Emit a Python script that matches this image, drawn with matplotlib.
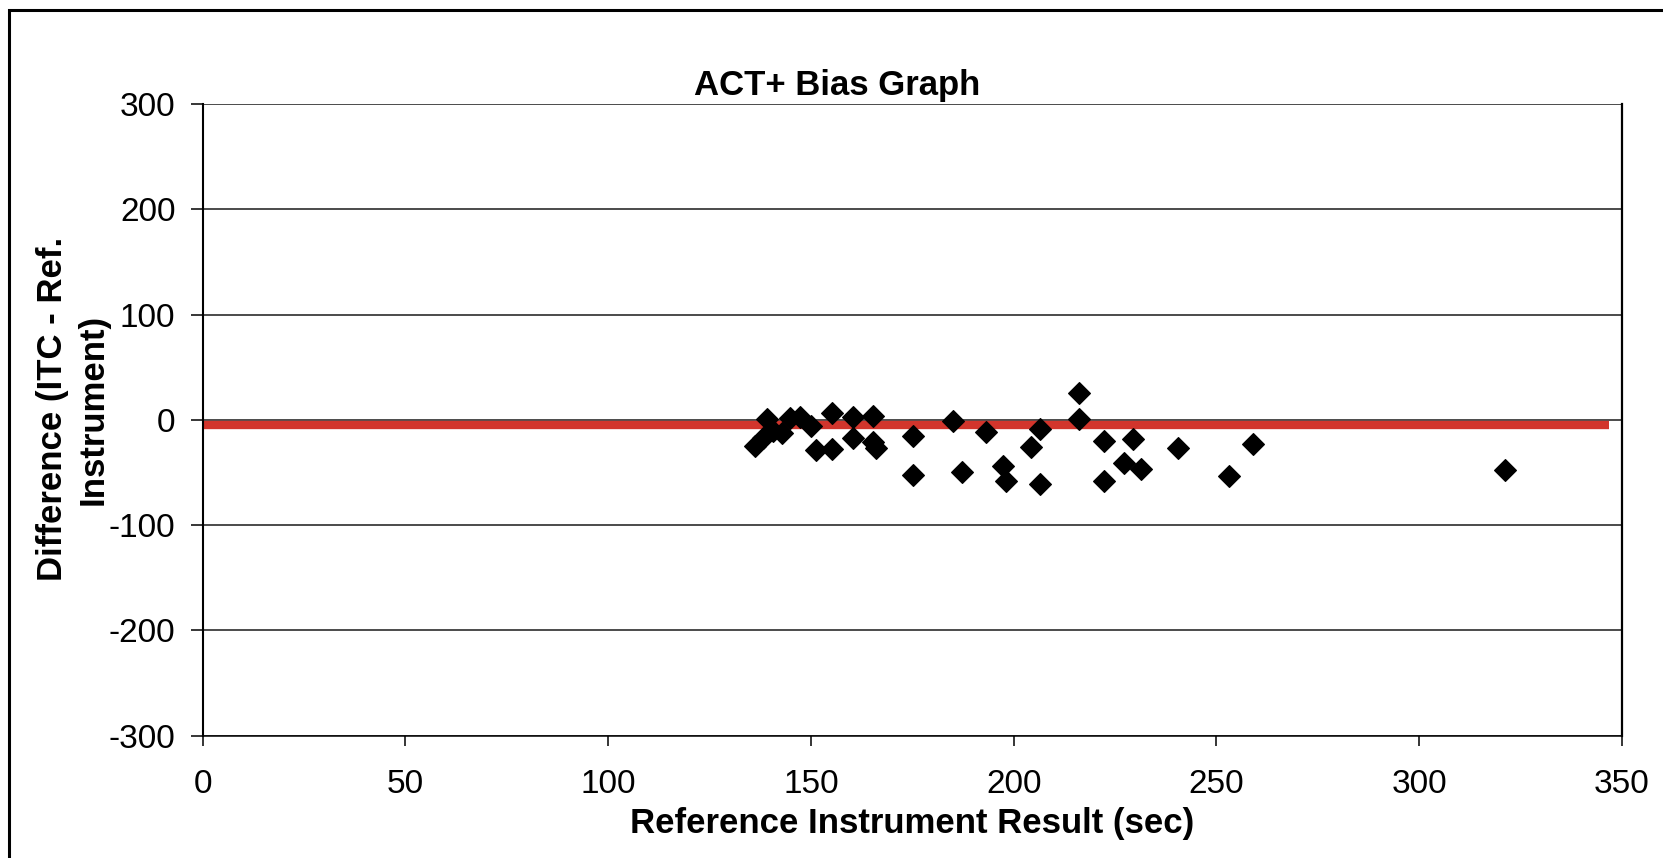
import matplotlib
matplotlib.use("Agg")
import matplotlib.pyplot as plt
from matplotlib.patches import Rectangle

plt.rcParams['font.family'] = ['Liberation Sans', 'DejaVu Sans']
plt.rcParams['axes.unicode_minus'] = False

# reference instrument result (sec) and difference (ITC - ref)
ref_sec = [136.2, 138.1, 139.1, 140.6, 142.8, 144.8, 147.2, 149.9, 151.3,
           155.1, 155.1, 160.3, 160.3, 165.4, 165.3, 166.1, 175.1, 175.1,
           185.0, 187.3, 193.2, 197.3, 198.1, 204.3, 206.4, 206.4, 216.0,
           216.0, 222.3, 222.3, 227.2, 229.3, 231.3, 240.4, 253.1, 259.1,
           321.2]
diff = [-25, -17, 1, -11, -13, 2, 3, -6, -29,
        6, -28, 3, -17, 4, -21, -27, -15, -52,
        -1, -50, -12, -44, -58, -26, -9, -61, 25,
        1, -20, -58, -41, -18, -47, -27, -53, -23,
        -48]

bias = -5          # red bias line
bias_end = 346.8

x_ticks = [0, 50, 100, 150, 200, 250, 300, 350]
y_ticks = [-300, -200, -100, 0, 100, 200, 300]

fig = plt.figure(figsize=(16.63, 8.58), dpi=100)
ax = fig.add_axes([0.1219, 0.1427, 0.9753 - 0.1219, 0.8788 - 0.1427])

# outer frame (cut off on right / bottom like the scan)
fig.patches.append(Rectangle((8.5 / 1663, -0.05), 1.1, 1 - 9.5 / 858 + 0.05,
                             transform=fig.transFigure, fill=False,
                             edgecolor='black', linewidth=2.2))

ax.set_xlim(0, 350)
ax.set_ylim(-300, 300)
ax.set_xticks(x_ticks)
ax.set_yticks(y_ticks)

for y in y_ticks:
    ax.axhline(y, color='#1a1a1a', lw=1.1, zorder=1)

ax.plot([0, bias_end], [bias, bias], color='#d2352c', lw=6,
        solid_capstyle='butt', zorder=2)
ax.plot(ref_sec, diff, 'D', color='black', ms=11, mew=0.8, zorder=3)

ax.spines['top'].set_visible(False)
ax.spines['left'].set_linewidth(1.5)
ax.spines['right'].set_linewidth(1.6)
ax.spines['bottom'].set_linewidth(1.1)
ax.tick_params(axis='y', direction='out', length=8.6, width=1.1,
               labelsize=24, pad=11)
ax.tick_params(axis='x', direction='out', length=7, width=1.1,
               labelsize=24, pad=17)

fig.text(0.5033, 1 - 95 / 858, 'ACT+ Bias Graph', ha='center',
         va='baseline', fontsize=25, fontweight='bold')
fig.text(0.5486, 1 - 823 / 858, 'Reference Instrument Result (sec)',
         ha='center', va='center', fontsize=25, fontweight='bold')
fig.text(0.0439, 1 - 409 / 858, 'Difference (ITC - Ref.\nInstrument)',
         ha='center', va='center', rotation=90, fontsize=25,
         fontweight='bold', multialignment='center', linespacing=1.3)

plt.savefig('out.png', dpi=100)
